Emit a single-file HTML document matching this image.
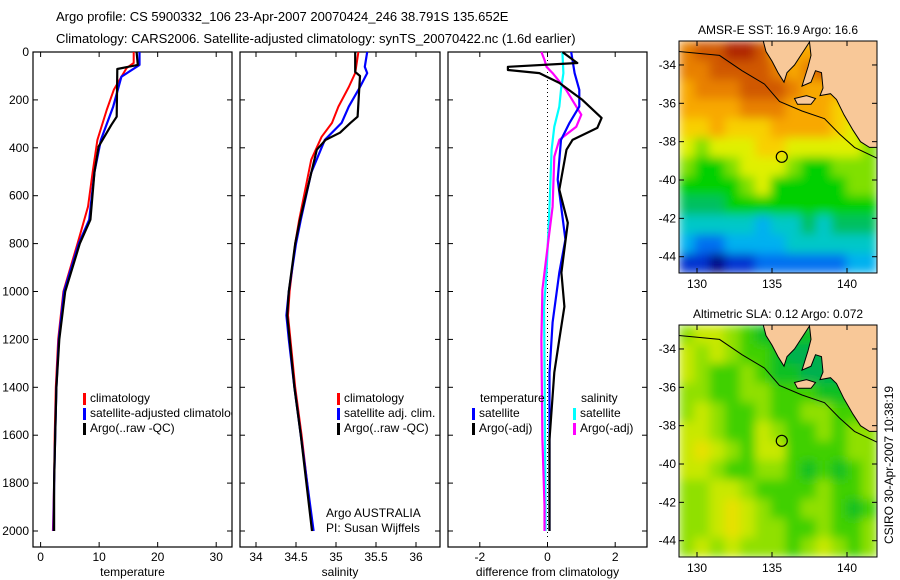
<!DOCTYPE html>
<html><head><meta charset="utf-8"><style>
html,body{margin:0;padding:0;background:#fff;}
svg{display:block;font-family:"Liberation Sans",sans-serif;}
text{font-size:12px;fill:#000;}
</style></head><body>
<svg id="fig" width="900" height="580" viewBox="0 0 900 580">
<defs>
<filter id="smooth" x="-5%" y="-5%" width="110%" height="110%"><feGaussianBlur stdDeviation="5" edgeMode="duplicate"/></filter>
</defs>
<text x="56" y="21" style="font-size:13px">Argo profile: CS 5900332_106 23-Apr-2007 20070424_246 38.791S 135.652E</text>
<text x="56" y="43" style="font-size:13px">Climatology: CARS2006. Satellite-adjusted climatology: synTS_20070422.nc (1.6d earlier)</text>
<g id="layer"></g>
</svg>
<script>
// ---------- profile data (depth m, value) ----------
const depthTicks=[0,200,400,600,800,1000,1200,1400,1600,1800,2000];
const tempTicks=[0,10,20,30];
const salTicks=[34,34.5,35,35.5,36];
const diffTicks=[-2,0,2];
const tempClim=[[0,15.9],[46,15.9],[67,14.7],[158,12.5],[242,11.3],[367,9.7],[500,8.9],[646,8.1],[800,6.3],[1000,3.9],[1200,3.0],[1400,2.6],[1600,2.4],[1800,2.3],[2000,2.1]];
const tempSat=[[0,16.9],[54,16.9],[103,13.8],[228,12.4],[367,10.3],[500,9.2],[700,8.3],[800,6.5],[1000,4.0],[1200,3.1],[1400,2.7],[1600,2.5],[1800,2.3],[2000,2.2]];
const tempArgo=[[0,16.4],[54,16.6],[71,13.1],[270,13.0],[304,12.1],[395,9.9],[500,9.2],[700,8.5],[800,6.7],[1000,4.2],[1200,3.2],[1400,2.7],[1600,2.5],[1800,2.3],[2000,2.3]];
const salClim=[[0,35.28],[88,35.24],[146,35.16],[228,35.03],[296,34.95],[354,34.82],[450,34.69],[700,34.54],[800,34.49],[1000,34.42],[1100,34.40],[1200,34.43],[1400,34.49],[1600,34.57],[1800,34.64],[2000,34.71]];
const salSat=[[0,35.39],[62,35.36],[88,35.39],[146,35.30],[228,35.16],[296,35.07],[367,34.86],[504,34.69],[700,34.56],[800,34.50],[1000,34.41],[1100,34.38],[1200,34.41],[1400,34.48],[1600,34.56],[1800,34.64],[2000,34.72]];
const salArgo=[[0,35.24],[83,35.24],[100,35.30],[270,35.27],[296,35.18],[337,35.05],[367,34.87],[408,34.76],[700,34.55],[800,34.49],[1000,34.41],[1100,34.39],[1200,34.42],[1400,34.48],[1600,34.56],[1800,34.63],[2000,34.70]];
const dTempSat=[[0,0.7],[88,0.8],[158,0.94],[228,0.94],[296,0.65],[367,0.4],[533,0.3],[783,0.53],[921,0.35],[1129,0.15],[1338,0.06],[2000,0.06]];
const dTempArgo=[[0,0.44],[46,0.88],[62,-1.17],[75,-1.17],[88,-0.24],[129,0.35],[200,1.03],[275,1.6],[317,1.47],[367,0.74],[408,0.56],[575,0.35],[713,0.6],[921,0.41],[1063,0.5],[1200,0.35],[1338,0.2],[1617,0.06],[2000,0.06]];
const dSalSat=[[0,0.44],[88,0.47],[158,0.4],[228,0.35],[312,0.2],[408,0.12],[646,0.06],[921,-0.03],[1063,-0.1],[1896,-0.06],[2000,-0.06]];
const dSalArgo=[[0,-0.18],[33,-0.09],[62,-0.03],[88,0.15],[158,0.55],[228,0.85],[262,1.0],[312,0.85],[367,0.35],[437,0.2],[646,0.15],[783,0.03],[992,-0.15],[1200,-0.18],[1617,-0.15],[1896,-0.09],[2000,-0.09]];
// ---------- map data (12 lat rows -33..-44, 13 lon cols 129..141) ----------
const sstLevels=[
[11,12,12,13,13,12,10,10,10,10,10,10,10],
[11,11,12,12,12,12,11,10,11,12,11,10,10],
[10,11,11,11,12,12,12,11,10,10,10,10,10],
[10,10,10,10,11,11,11,10,10,10,9,9,9],
[9,9,10,9,9,9,10,10,10,10,9,8,7],
[8,7,8,8,8,9,9,8,8,8,8,8,7],
[7,6,6,7,8,8,8,7,6,6,7,7,7],
[6,6,6,6,7,8,6,6,6,6,6,7,7],
[5,5,5,6,6,6,6,6,6,6,6,6,6],
[4,4,4,4,4,3,4,4,5,4,5,5,5],
[3,2,2,3,3,3,3,4,4,4,4,4,4],
[1,1,0,1,1,2,2,2,2,2,2,3,3]];
const slaLevels=[
[3,4,4,3,2,1,1,1,1,1,1,1,1],
[4,3,4,3,2,2,1,0,0,0,0,0,1],
[4,3,2,2,3,2,1,1,0,0,0,1,1],
[3,3,2,2,3,3,2,2,2,1,1,1,1],
[3,4,3,2,2,3,2,2,3,3,2,2,2],
[4,4,3,2,2,4,3,2,2,3,2,3,3],
[4,5,4,3,2,4,4,2,2,2,2,3,3],
[4,4,3,2,2,3,3,2,1,2,1,2,3],
[3,3,4,4,3,2,2,2,2,3,2,2,3],
[3,3,4,5,4,3,2,2,3,3,2,1,2],
[3,3,4,5,4,3,3,2,2,3,2,2,3],
[3,4,3,4,3,3,3,2,3,4,3,2,3]];
const lonTicks=[130,135,140];
const latTicks=[-34,-36,-38,-40,-42,-44];
const argoPos=[135.652,-38.791];
const landPoly=[[134.4,-32.7],[134.6,-33.3],[135.0,-33.8],[135.4,-34.4],[135.8,-34.9],[136.0,-34.4],[136.5,-34.0],[137.0,-33.4],[137.5,-32.8],[137.6,-33.5],[137.4,-34.1],[137.0,-35.1],[137.6,-34.9],[137.9,-34.3],[138.3,-34.4],[138.4,-35.2],[138.2,-35.6],[138.9,-35.5],[139.3,-35.8],[139.8,-36.6],[140.4,-37.4],[140.9,-38.0],[141.5,-38.3],[142.1,-38.3],[142.1,-32.7]];
const kiPoly=[[136.5,-35.75],[137.3,-35.6],[137.9,-35.75],[137.6,-36.05],[136.7,-36.05]];
const shelfLine=[[128.8,-33.3],[131.5,-33.5],[133.0,-34.3],[134.5,-35.0],[135.5,-35.9],[137.0,-36.4],[138.5,-36.8],[139.5,-37.6],[140.5,-38.3],[142.1,-38.9]];

const sstColors=['#000080','#0030d0','#0070f0','#00b0f0','#00c8c8','#00c060','#00d000','#80e000','#e0f000','#f8d000','#f8a800','#e88000','#d05800','#b02800'];
const slaColors=['#00b050','#10c020','#40d000','#90e000','#c8e800','#e8e000'];
const NS='http://www.w3.org/2000/svg';
const layer=document.getElementById('layer');
function mk(tag,attrs,parent){const e=document.createElementNS(NS,tag);for(const k in attrs)e.setAttribute(k,attrs[k]);(parent||layer).appendChild(e);return e;}
const top0=52,bot=547;
const yD=d=>top0+d*0.2395;
const panels=[
 {x0:33,x1:232,v0:-1.3,v1:32.7,ticks:tempTicks,label:'temperature',name:'temperature'},
 {x0:240,x1:440,v0:33.8,v1:36.3,ticks:salTicks,label:'salinity',name:'salinity'},
 {x0:448,x1:647,v0:-2.94,v1:2.94,ticks:diffTicks,label:'difference from climatology',name:'difference'}];
panels.forEach(p=>{p.sx=v=>p.x0+(v-p.v0)/(p.v1-p.v0)*(p.x1-p.x0);});
panels.forEach((p,i)=>{
 const g=mk('g',{});
 
 
 mk('rect',{x:p.x0,y:top0,width:p.x1-p.x0,height:bot-top0,fill:'#fff',stroke:'#000','stroke-width':1.2},g);
 depthTicks.forEach(d=>{const y=yD(d);
  mk('line',{x1:p.x0,x2:p.x0+5,y1:y,y2:y,stroke:'#000'},g);
  mk('line',{x1:p.x1-5,x2:p.x1,y1:y,y2:y,stroke:'#000'},g);
  if(i===0){const t=mk('text',{x:29,y:y+4,'text-anchor':'end'},g);t.textContent=d;
   
   }
 });
 p.ticks.forEach(v=>{const x=p.sx(v);
  mk('line',{x1:x,x2:x,y1:bot,y2:bot-5,stroke:'#000'},g);
  mk('line',{x1:x,x2:x,y1:top0,y2:top0+5,stroke:'#000'},g);
  const t=mk('text',{x:x,y:561,'text-anchor':'middle'},g);t.textContent=v;
  
  
 });
 const xl=mk('text',{x:(p.x0+p.x1)/2,y:576,'text-anchor':'middle'},g);xl.textContent=p.label;
 
 
});
function series(p,data,color,w,name){
 const pts=data.map(([d,v])=>p.sx(v).toFixed(1)+','+yD(d).toFixed(1)).join(' ');
 const l=mk('polyline',{points:pts,fill:'none',stroke:color,'stroke-width':w,'stroke-linejoin':'round'});
 
 
}
series(panels[0],tempClim,'#ff0000',2,'temp-climatology-line');
series(panels[0],tempSat,'#0000ff',2.2,'temp-satellite-line');
series(panels[0],tempArgo,'#000000',2.2,'temp-argo-line');
series(panels[1],salClim,'#ff0000',2,'sal-climatology-line');
series(panels[1],salSat,'#0000ff',2.2,'sal-satellite-line');
series(panels[1],salArgo,'#000000',2.2,'sal-argo-line');
const zl=mk('line',{x1:panels[2].sx(0),x2:panels[2].sx(0),y1:top0,y2:540,stroke:'#000','stroke-dasharray':'1,3'});


series(panels[2],dSalSat,'#00ffff',2.2,'diff-sal-satellite-line');
series(panels[2],dSalArgo,'#ff00ff',2.2,'diff-sal-argo-line');
series(panels[2],dTempSat,'#0000ff',2.2,'diff-temp-satellite-line');
series(panels[2],dTempArgo,'#000000',2.2,'diff-temp-argo-line');
// legends
const cp=mk('clipPath',{id:'cp1'});mk('rect',{x:33,y:52,width:199,height:495},cp);
function legend(entries,bx,y0,clip,prefix){
 const g=mk('g',clip?{'clip-path':'url(#cp1)'}:{});
 
 
 entries.forEach(([c,txt,dx],k)=>{const y=y0+k*15;
  if(c) mk('rect',{x:bx,y:y-9,width:3,height:12,fill:c},g);
  const t=mk('text',{x:bx+(dx||7),y:y},g);t.textContent=txt;
  
  
 });
}
legend([['#ff0000','climatology'],['#0000ff','satellite-adjusted climatology'],['#000','Argo(..raw -QC)']],83,402,true,'temperature');
legend([['#ff0000','climatology'],['#0000ff','satellite adj. clim.'],['#000','Argo(..raw -QC)']],337,402,false,'salinity');
legend([[null,'temperature',8],['#0000ff','satellite'],['#000','Argo(-adj)']],472,402,false,'temp-diff');
legend([[null,'salinity',8],['#00ffff','satellite'],['#ff00ff','Argo(-adj)']],573,402,false,'sal-diff');
[['Argo AUSTRALIA',517],['PI: Susan Wijffels',532]].forEach(([s,y])=>{const t=mk('text',{x:326,y:y});t.textContent=s;
 
 });
// maps
const mx0=679,mx1=877,lon0=128.8,lon1=142.0,lat0=-32.75,lat1=-44.85;
function drawMap(yTop,levels,colors,title,name){
 const yBot=yTop+232;
 const X=lo=>mx0+(lo-lon0)/(lon1-lon0)*(mx1-mx0);
 const Y=la=>yTop+(lat0-la)/(lat0-lat1)*(yBot-yTop);
 const g=mk('g',{});
 
 
 const cid='mc'+yTop;const c=mk('clipPath',{id:cid},g);mk('rect',{x:mx0,y:yTop,width:mx1-mx0,height:232},c);
 const inner=mk('g',{'clip-path':'url(#'+cid+')'},g);
 const cells=mk('g',{filter:'url(#smooth)'},inner);
 levels.forEach((row,r)=>row.forEach((v,ci)=>{
  const la=lat0-r*(lat0-lat1)/12, lo=lon0+ci*(lon1-lon0)/13;
  const x=X(lo),y=Y(la),x2=X(lo+(lon1-lon0)/13),y2=Y(la-(lat0-lat1)/12);
  const cell=mk('rect',{x:x,y:y,width:x2-x+0.5,height:y2-y+0.5,fill:colors[v]},cells);
  
  
 }));
 const pp=a=>a.map(([lo,la])=>X(lo).toFixed(1)+','+Y(la).toFixed(1)).join(' ');
 mk('polygon',{points:pp(landPoly),fill:'#f8c898',stroke:'#000','stroke-width':1},inner);
 mk('polygon',{points:pp(kiPoly),fill:'#f8c898',stroke:'#000','stroke-width':1},inner);
 mk('polyline',{points:pp(shelfLine),fill:'none',stroke:'#000','stroke-width':1},inner);
 mk('circle',{cx:X(argoPos[0]),cy:Y(argoPos[1]),r:5.5,fill:'none',stroke:'#000','stroke-width':1.2},inner);
 mk('rect',{x:mx0,y:yTop,width:mx1-mx0,height:232,fill:'none',stroke:'#000','stroke-width':1},g);
 lonTicks.forEach(lo=>{const x=X(lo);
  mk('line',{x1:x,x2:x,y1:yBot,y2:yBot-5,stroke:'#000'},g);
  mk('line',{x1:x,x2:x,y1:yTop,y2:yTop+5,stroke:'#000'},g);
  const t=mk('text',{x:x,y:yBot+15,'text-anchor':'middle'},g);t.textContent=lo;
  
  });
 latTicks.forEach(la=>{const y=Y(la);
  mk('line',{x1:mx0,x2:mx0+5,y1:y,y2:y,stroke:'#000'},g);
  mk('line',{x1:mx1-5,x2:mx1,y1:y,y2:y,stroke:'#000'},g);
  const t=mk('text',{x:676,y:y+4,'text-anchor':'end'},g);t.textContent=la;
  
  });
 const tt=mk('text',{x:(mx0+mx1)/2,y:yTop-7,'text-anchor':'middle'},g);tt.textContent=title;
 
 
}
drawMap(41,sstLevels,sstColors,'AMSR-E SST: 16.9 Argo: 16.6','sst-map');
drawMap(325,slaLevels,slaColors,'Altimetric SLA: 0.12 Argo: 0.072','sla-map');
const st=mk('text',{x:0,y:0,transform:'translate(893,465) rotate(-90)','text-anchor':'middle'});
st.textContent='CSIRO 30-Apr-2007 10:38:19';


</script>
</body></html>
